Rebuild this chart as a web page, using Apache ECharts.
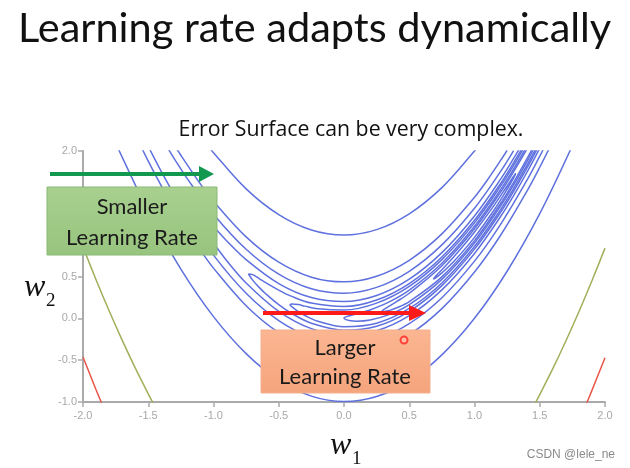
<!DOCTYPE html>
<html><head><meta charset="utf-8">
<script src="https://cdn.jsdelivr.net/npm/echarts@6/dist/echarts.min.js"></script>
<style>html,body{margin:0;padding:0;background:#fff}#c{width:630px;height:468px}</style>
</head><body><div id="c"></div>
<script>
// ---- axis ticks ----
const xTicks = [-2.0, -1.5, -1.0, -0.5, 0.0, 0.5, 1.0, 1.5, 2.0];
const yTicks = [-1.0, -0.5, 0.0, 0.5, 1.0, 1.5, 2.0];

// ---- contour lines (w1, w2) ----
const c100Upper = [[-1.05,2.08],[-1.0,1.98],[-0.75,1.547],[-0.5,1.239],[-0.25,1.055],[0,0.995],[0.25,1.06],[0.5,1.249],[0.75,1.562],[1.0,2.0],[1.05,2.10]];
const c100Lower = [[-1.75,2.10],[-1.7,1.927],[-1.5,1.282],[-1.25,0.588],[-1.0,0.02],[-0.75,-0.422],[-0.5,-0.739],[-0.25,-0.93],[0,-0.995],[0.25,-0.935],[0.5,-0.749],[0.75,-0.437],[1.0,0],[1.25,0.563],[1.5,1.251],[1.75,2.065]];
const c20Upper = [[-1.3,2.074],[-1.25,1.949],[-1.1,1.605],[-1.0,1.4],[-0.75,0.974],[-0.5,0.671],[-0.25,0.492],[0,0.436],[0.25,0.504],[0.5,0.694],[0.75,1.009],[1.0,1.447],[1.1,1.657],[1.2,1.887],[1.25,2.009]];
const c20Lower = [[-1.6,2.196],[-1.5,1.879],[-1.4,1.583],[-1.3,1.306],[-1.1,0.815],[-1.0,0.6],[-0.75,0.151],[-0.5,-0.171],[-0.25,-0.367],[0,-0.436],[0.25,-0.378],[0.5,-0.194],[0.75,0.116],[1.0,0.553],[1.2,0.993],[1.4,1.515],[1.5,1.806],[1.6,2.117]];
const c10Upper = [[-1.35,2.034],[-1.3,1.907],[-1.2,1.667],[-1.0,1.245],[-0.75,0.826],[-0.5,0.528],[-0.25,0.353],[0,0.3],[0.25,0.37],[0.5,0.562],[0.75,0.878],[1.0,1.316],[1.2,1.756],[1.3,2.005]];
const c10Lower = [[-1.5,2.056],[-1.45,1.903],[-1.4,1.754],[-1.3,1.473],[-1.2,1.213],[-1.0,0.755],[-0.75,0.299],[-0.5,-0.028],[-0.25,-0.228],[0,-0.3],[0.25,-0.245],[0.5,-0.062],[0.75,0.247],[1.0,0.684],[1.2,1.124],[1.4,1.646],[1.5,1.938],[1.55,2.091]];
const c5Loop = [[1.35,2.043],[1.3,1.912],[1.2,1.663],[1.0,1.224],[0.75,0.785],[0.5,0.468],[0.25,0.273],[0,0.2],[-0.25,0.248],[-0.5,0.416],[-0.75,0.702],[-0.9,0.928],[-1.0,1.1],[-1.1,1.287],[-1.15,1.384],[-1.2,1.48],[-1.23,1.529],[-1.236,1.52],[-1.23,1.496],[-1.2,1.40],[-1.15,1.261],[-1.1,1.133],[-1.0,0.9],[-0.9,0.692],[-0.75,0.423],[-0.5,0.084],[-0.25,-0.123],[0,-0.2],[0.25,-0.148],[0.5,0.032],[0.75,0.34],[1.0,0.776],[1.2,1.217],[1.3,1.468],[1.4,1.74],[1.5,2.032]];
const c3Loop = [[1.36,2.02],[1.3,1.861],[1.2,1.612],[1.0,1.173],[0.75,0.734],[0.5,0.416],[0.25,0.219],[0,0.141],[-0.25,0.182],[-0.4,0.262],[-0.5,0.337],[-0.6,0.426],[-0.65,0.475],[-0.7,0.523],[-0.732,0.53],[-0.7,0.457],[-0.65,0.37],[-0.6,0.294],[-0.5,0.163],[-0.4,0.058],[-0.25,-0.058],[0,-0.141],[0.25,-0.094],[0.5,0.084],[0.75,0.391],[1.0,0.827],[1.2,1.268],[1.3,1.519],[1.4,1.791],[1.45,1.935],[1.5,2.084]];
const c2Loop = [[1.37,2.014],[1.3,1.828],[1.2,1.58],[1.0,1.141],[0.75,0.702],[0.5,0.382],[0.25,0.182],[0,0.1],[-0.2,0.115],[-0.3,0.146],[-0.35,0.165],[-0.4,0.172],[-0.414,0.16],[-0.4,0.14],[-0.35,0.08],[-0.3,0.034],[-0.2,-0.035],[0,-0.1],[0.25,-0.058],[0.5,0.118],[0.75,0.423],[1.0,0.859],[1.2,1.30],[1.3,1.552],[1.4,1.824],[1.45,1.968],[1.5,2.118]];
const c1Loop = [[1.4,2.052],[1.3,1.785],[1.2,1.538],[1.0,1.1],[0.75,0.659],[0.5,0.337],[0.35,0.199],[0.2,0.1],[0.1,0.054],[0.05,0.034],[0,0.003],[0.05,-0.029],[0.1,-0.034],[0.2,-0.02],[0.35,0.047],[0.5,0.163],[0.75,0.466],[1.0,0.9],[1.2,1.342],[1.3,1.595],[1.4,1.868],[1.45,2.013]];
const c05Loop = [[1.4,2.018],[1.3,1.754],[1.2,1.508],[1.0,1.071],[0.75,0.629],[0.5,0.3],[0.4,0.197],[0.35,0.15],[0.3,0.1],[0.293,0.09],[0.3,0.08],[0.35,0.095],[0.4,0.123],[0.5,0.2],[0.75,0.496],[1.0,0.929],[1.2,1.372],[1.3,1.626],[1.4,1.902],[1.45,2.048]];
const c01Loop = [[0.684,0.468],[0.7,0.5],[0.75,0.582],[0.85,0.75],[1.0,1.032],[1.15,1.35],[1.25,1.582],[1.3,1.70],[1.316,1.732],[1.3,1.68],[1.25,1.543],[1.15,1.295],[1.0,0.968],[0.85,0.695],[0.75,0.543],[0.7,0.48],[0.684,0.468]];
const c1000Left = [[-2.0,0.852],[-1.9,0.461],[-1.8,0.09],[-1.7,-0.261],[-1.6,-0.592],[-1.5,-0.902],[-1.45,-1.05]];
const c1000Right = [[1.45,-1.06],[1.5,-0.912],[1.6,-0.602],[1.7,-0.271],[1.8,0.079],[1.9,0.449],[2.0,0.839]];
const c2000Left = [[-2.0,-0.462],[-1.9,-0.853],[-1.85,-1.04]];
const c2000Right = [[1.85,-1.049],[1.9,-0.861],[2.0,-0.471]];
const redPoint = [[0.46,-0.26]];

const blue = '#5f71de', olive = '#a3ad5a', red = '#e8564a';
const blueLines = [c100Upper,c100Lower,c20Upper,c20Lower,c10Upper,c10Lower,c5Loop,c3Loop,c2Loop,c1Loop,c05Loop,c01Loop];
const series = [];
blueLines.forEach(d => series.push({type:'line', data:d, smooth:0.35, symbol:'none', clip:true, lineStyle:{color:blue, width:1.5}}));
[c1000Left,c1000Right].forEach(d => series.push({type:'line', data:d, smooth:0.3, symbol:'none', clip:true, lineStyle:{color:olive, width:1.5}}));
[c2000Left,c2000Right].forEach(d => series.push({type:'line', data:d, smooth:0.3, symbol:'none', clip:true, lineStyle:{color:red, width:1.5}}));
series.push({type:'scatter', data:redPoint, z:120, symbol:'circle', symbolSize:7, itemStyle:{color:'rgba(255,255,255,0.2)', borderColor:'#ff2020', borderWidth:2}});

const chart = echarts.init(document.getElementById('c'), null, {renderer:'canvas'});
const labelFmt = v => v.toFixed(1);
const axisCommon = {
  axisLine:{onZero:false, lineStyle:{color:'#aaaaaa', width:2}},
  axisTick:{show:true, length:5, lineStyle:{color:'#aaaaaa', width:1.5}},
  axisLabel:{color:'#a8a8a8', fontSize:11, fontFamily:'Liberation Sans', formatter:labelFmt},
  splitLine:{show:false}
};
chart.setOption({
  animation:false,
  backgroundColor:'#ffffff',
  grid:{left:83, right:25, top:151, bottom:66, containLabel:false},
  xAxis:Object.assign({type:'value', min:xTicks[0], max:xTicks[xTicks.length-1], interval:0.5}, axisCommon, {axisLabel:Object.assign({}, axisCommon.axisLabel, {margin:8})}),
  yAxis:Object.assign({type:'value', min:yTicks[0], max:yTicks[yTicks.length-1], interval:0.5}, axisCommon, {axisLabel:Object.assign({}, axisCommon.axisLabel, {margin:6})}),
  series:series,
  graphic:[
    {type:'text', left:18, top:8, z:100, style:{text:'Learning rate adapts dynamically', font:'41.5px Lato', fill:'#111'}},
    {type:'text', x:351, y:130, z:100, style:{text:'Error Surface can be very complex.', font:'21.3px "Open Sans"', fill:'#111', textAlign:'center', textVerticalAlign:'middle'}},
    {type:'line', z:100, shape:{x1:50,y1:174,x2:202,y2:174}, style:{stroke:'#12994f', lineWidth:4}},
    {type:'polygon', z:100, shape:{points:[[199,166],[214,174],[199,182]]}, style:{fill:'#12994f'}},
    {type:'rect', z:100, shape:{x:47,y:187,width:170,height:68}, style:{fill:{type:'linear',x:0,y:0,x2:0,y2:1,colorStops:[{offset:0,color:'#a8d08f'},{offset:1,color:'#97c47e'}]}, stroke:'#8ab874', lineWidth:1}},
    {type:'text', x:132, y:207, z:101, style:{text:'Smaller', font:'22px Lato', fill:'#1a1a1a', textAlign:'center', textVerticalAlign:'middle'}},
    {type:'text', x:132, y:238, z:101, style:{text:'Learning Rate', font:'22px Lato', fill:'#1a1a1a', textAlign:'center', textVerticalAlign:'middle'}},
    {type:'rect', z:100, shape:{x:261,y:330,width:169,height:63}, style:{fill:{type:'linear',x:0,y:0,x2:0,y2:1,colorStops:[{offset:0,color:'#fbb692'},{offset:1,color:'#f5a47c'}]}, stroke:'#f2b08f', lineWidth:1}},
    {type:'text', x:345, y:348, z:101, style:{text:'Larger', font:'22px Lato', fill:'#1a1a1a', textAlign:'center', textVerticalAlign:'middle'}},
    {type:'text', x:345, y:377, z:101, style:{text:'Learning Rate', font:'22px Lato', fill:'#1a1a1a', textAlign:'center', textVerticalAlign:'middle'}},
    {type:'line', z:100, shape:{x1:263,y1:313,x2:412,y2:313}, style:{stroke:'#ff1a1a', lineWidth:4}},
    {type:'polygon', z:100, shape:{points:[[409,305],[426,313],[409,321]]}, style:{fill:'#ff1a1a'}},
    {type:'text', x:24, y:304, z:100, style:{text:'w', font:'italic 32px "Liberation Serif"', fill:'#111', textVerticalAlign:'bottom'}},
    {type:'text', x:46, y:311, z:100, style:{text:'2', font:'19px "Liberation Serif"', fill:'#111', textVerticalAlign:'bottom'}},
    {type:'text', x:330, y:462, z:100, style:{text:'w', font:'italic 32px "Liberation Serif"', fill:'#111', textVerticalAlign:'bottom'}},
    {type:'text', x:352, y:469, z:100, style:{text:'1', font:'19px "Liberation Serif"', fill:'#111', textVerticalAlign:'bottom'}},
    {type:'text', right:15, top:449, z:100, style:{text:'CSDN @lele_ne', font:'12px "Liberation Sans"', fill:'#8a8a8a'}}
  ]
});
</script></body></html>
